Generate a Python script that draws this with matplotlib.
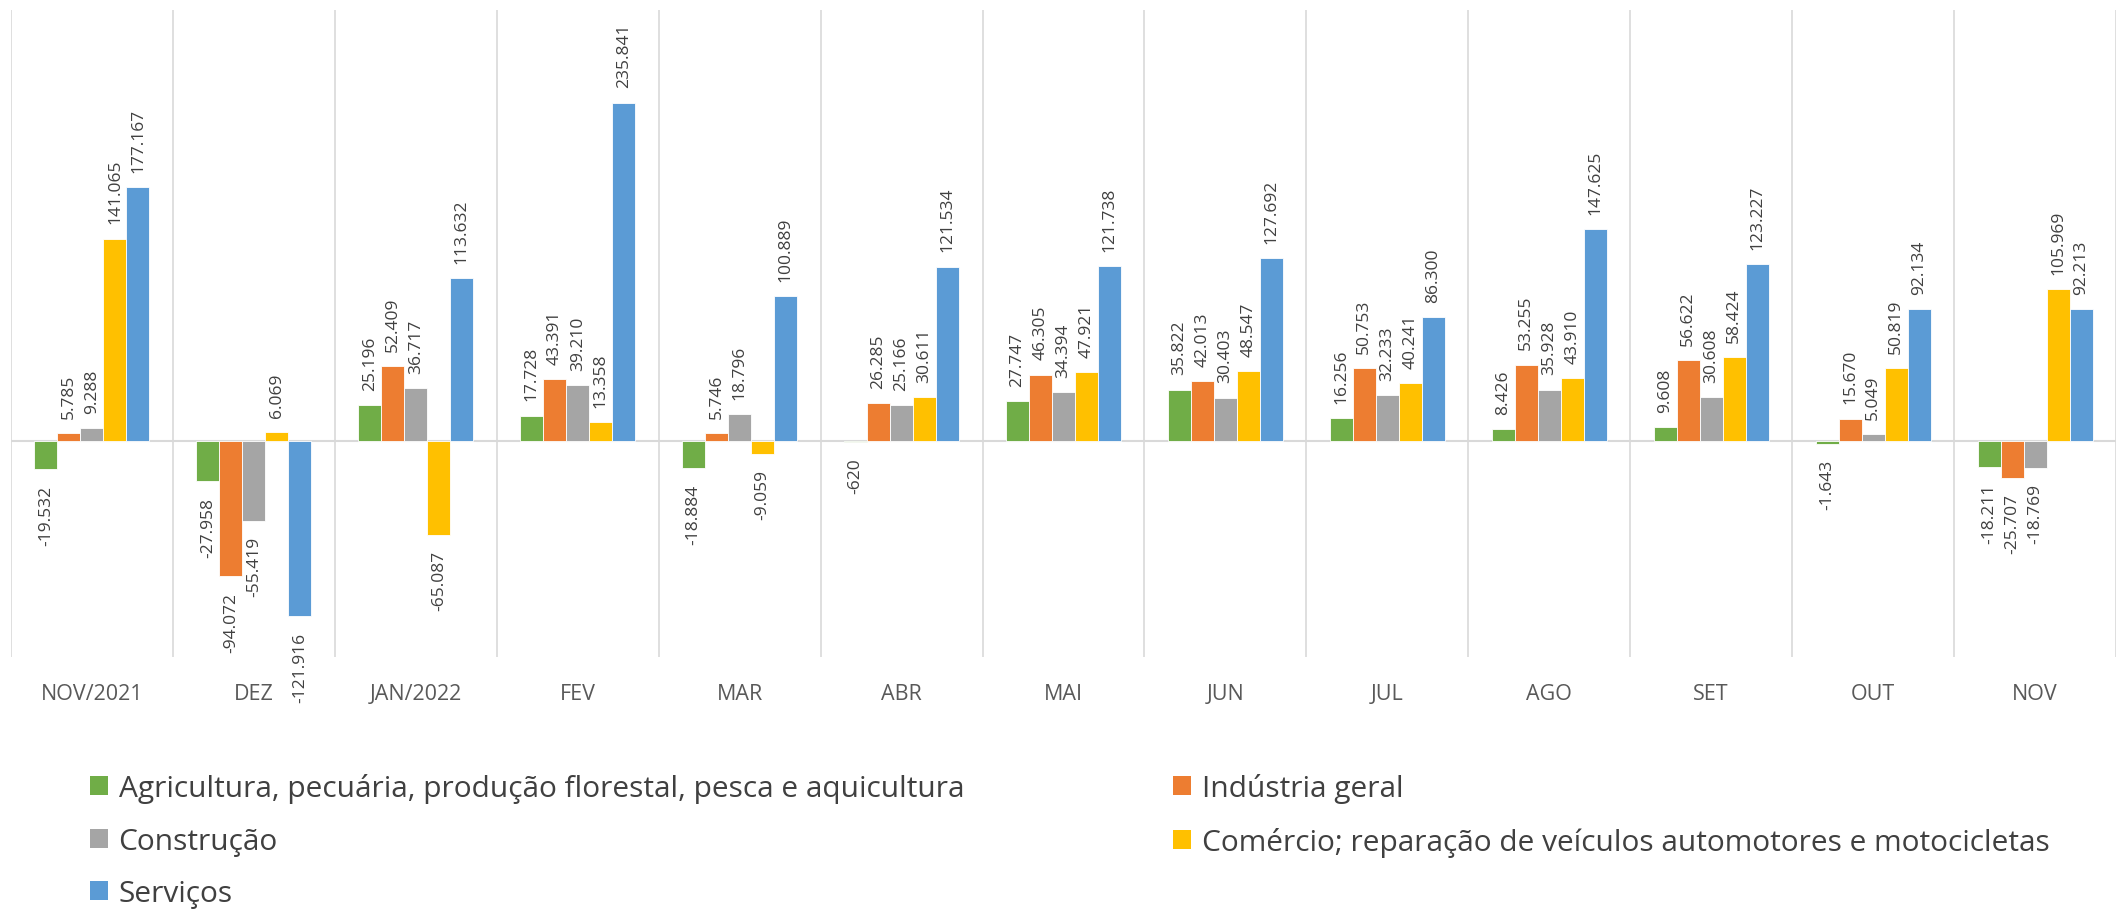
import numpy as np
import matplotlib
matplotlib.use('Agg')
import matplotlib.pyplot as plt
from matplotlib.patches import Patch

plt.rcParams['font.family'] = ['Open Sans', 'DejaVu Sans']

# Dados (saldo de empregos por setor)
meses = ['NOV/2021', 'DEZ', 'JAN/2022', 'FEV', 'MAR', 'ABR', 'MAI',
         'JUN', 'JUL', 'AGO', 'SET', 'OUT', 'NOV']
agricultura = [-19532, -27958, 25196, 17728, -18884, -620, 27747,
               35822, 16256, 8426, 9608, -1643, -18211]
industria = [5785, -94072, 52409, 43391, 5746, 26285, 46305,
             42013, 50753, 53255, 56622, 15670, -25707]
construcao = [9288, -55419, 36717, 39210, 18796, 25166, 34394,
              30403, 32233, 35928, 30608, 5049, -18769]
comercio = [141065, 6069, -65087, 13358, -9059, 30611, 47921,
            48547, 40241, 43910, 58424, 50819, 105969]
servicos = [177167, -121916, 113632, 235841, 100889, 121534, 121738,
            127692, 86300, 147625, 123227, 92134, 92213]

series = [
    ('Agricultura, pecuária, produção florestal, pesca e aquicultura', agricultura, '#70AD47'),
    ('Indústria geral', industria, '#ED7D31'),
    ('Construção', construcao, '#A5A5A5'),
    ('Comércio; reparação de veículos automotores e motocicletas', comercio, '#FFC000'),
    ('Serviços', servicos, '#5B9BD5'),
]


def fmt(v):
    return '{:,}'.format(v).replace(',', '.')


fig = plt.figure(figsize=(21.16, 9.12), dpi=100)
ax = fig.add_axes([0.0052, 0.279, 0.9948, 0.7084])

x = np.arange(len(meses))
w = 0.142
for i, (nome, vals, cor) in enumerate(series):
    pos = x + (i - 2) * w
    ax.bar(pos, vals, width=w, color=cor, edgecolor='white', linewidth=0.6, zorder=3)
    for px, v in zip(pos, vals):
        if v >= 0:
            ax.annotate(fmt(v), (px, v), xytext=(0, 11), textcoords='offset points',
                        rotation=90, ha='center', va='bottom', fontsize=12.5,
                        color='#404040')
        else:
            ax.annotate(fmt(v), (px, v), xytext=(0, -11), textcoords='offset points',
                        rotation=90, ha='center', va='top', fontsize=12.5,
                        color='#404040')

ax.set_xlim(-0.5, len(meses) - 0.5)
ax.set_ylim(-150000, 300000)
ax.axhline(0, color='#D9D9D9', linewidth=1.5, zorder=2)
for b in np.arange(len(meses) + 1) - 0.5:
    ax.axvline(b, color='#D9D9D9', linewidth=1.2, zorder=1)

for s in ax.spines.values():
    s.set_visible(False)
ax.set_yticks([])
ax.set_xticks(x)
ax.set_xticklabels(meses, fontsize=15.5, color='#595959')
ax.tick_params(axis='x', length=0, pad=19)

# legenda preenchida por linha (2 colunas)
ordem = [0, 2, 4, 1, 3]
handles = [Patch(facecolor=series[k][2], edgecolor='none') for k in ordem]
labels = [series[k][0] for k in ordem]
fig.legend(handles, labels, loc='upper left', bbox_to_anchor=(0.037, 0.164),
           ncol=2, frameon=False, fontsize=21.5, labelcolor='#404040',
           handlelength=0.6, handleheight=0.6, handletextpad=0.35,
           columnspacing=7.0, labelspacing=0.78, borderaxespad=0)

fig.savefig('out.png', dpi=100)
